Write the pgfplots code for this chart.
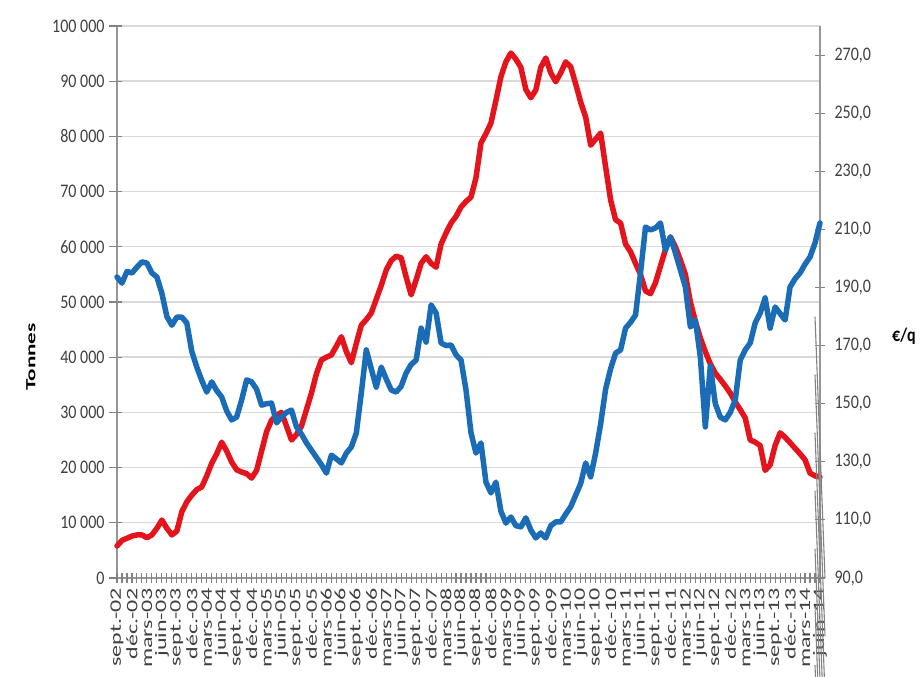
\documentclass[border=0pt]{standalone}
\usepackage{fontspec}
\setmainfont{Carlito}
\usepackage{pgfplots}
\usepackage{pgfplotstable}
\pgfplotsset{compat=1.18}

\definecolor{lred}{RGB}{228,20,28}
\definecolor{lblue}{RGB}{27,108,182}
\definecolor{gridc}{RGB}{217,217,217}
\definecolor{axisc}{RGB}{150,150,150}
\definecolor{tmark}{RGB}{130,130,130}
\definecolor{tickc}{RGB}{64,64,64}

% mois (0 = sept. 2002), stocks en tonnes, prix en euros par quintal
\pgfplotstableread{
i t p
0 5800 193.6
1 6800 191.5
2 7200 195.5
3 7600 195.0
4 7800 197.0
5 7800 198.8
6 7300 198.4
7 7800 195.0
8 9000 193.6
9 10500 188.0
10 9000 180.0
11 7800 177.0
12 8500 179.8
13 12000 179.8
14 13800 177.8
15 15000 168.0
16 16000 162.6
17 16500 158.0
18 18500 154.0
19 20800 157.5
20 22500 154.5
21 24600 152.3
22 23000 147.5
23 21000 144.4
24 19600 145.4
25 19200 151.3
26 18900 158.2
27 18100 157.5
28 19500 155.0
29 23000 149.5
30 26500 150.0
31 28600 150.2
32 29500 143.4
33 30000 145.4
34 27500 147.0
35 25000 147.8
36 26000 142.0
37 27500 139.5
38 30500 136.5
39 33500 134.0
40 37000 131.5
41 39500 129.0
42 40000 126.1
43 40400 132.3
44 42000 131.0
45 43700 129.6
46 41000 133.0
47 39000 135.1
48 42500 139.9
49 45800 153.7
50 46800 168.5
51 48000 162.0
52 50500 155.7
53 53000 162.6
54 55800 158.5
55 57500 154.7
56 58300 154.0
57 58000 156.0
58 54500 160.6
59 51300 163.5
60 54000 165.0
61 57000 176.0
62 58200 171.2
63 57000 184.0
64 56300 181.2
65 60500 170.9
66 62500 170.0
67 64300 170.2
68 65500 166.8
69 67200 165.0
70 68200 154.7
71 69000 140.0
72 72500 133.0
73 78800 136.5
74 80500 123.0
75 82400 119.3
76 86500 123.0
77 90800 113.0
78 93500 108.9
79 95100 111.0
80 94000 108.0
81 92500 107.6
82 88500 110.7
83 87000 106.5
84 88400 103.8
85 92500 105.5
86 94200 103.8
87 91500 108.0
88 89900 109.3
89 91500 109.3
90 93500 112.0
91 92600 114.5
92 89500 118.5
93 86200 122.5
94 83500 129.6
95 78400 124.8
96 79500 133.0
97 80600 143.0
98 74500 155.0
99 68500 162.0
100 64900 167.4
101 64300 168.5
102 60500 176.0
103 59100 178.0
104 57000 180.5
105 55000 195.0
106 52000 210.8
107 51500 209.8
108 53500 210.5
109 56500 212.2
110 59500 202.9
111 61800 207.4
112 60000 201.9
113 57600 196.0
114 55000 190.2
115 50000 176.4
116 46500 178.8
117 43500 166.1
118 41000 142.0
119 38800 163.0
120 37100 150.0
121 36000 145.4
122 34800 144.4
123 33500 147.0
124 31900 151.3
125 30500 165.0
126 29000 168.5
127 25000 170.9
128 24600 177.8
129 24000 181.2
130 19500 186.4
131 20500 176.0
132 24000 183.3
133 26300 181.0
134 25500 178.8
135 24500 190.2
136 23500 193.0
137 22500 195.0
138 21400 198.0
139 19000 200.5
140 18500 205.3
141 18300 212.2
}\data

\tikzset{tk/.style={tmark, line width=1.1pt}}

\pgfplotsset{
  base/.style={
    scale only axis, width=703pt, height=552pt,
    at={(117pt,99pt)}, anchor=south west,
    xmin=0, xmax=141, clip=false,
    /pgf/number format/assume math mode=true,
    tick label style={font=\fontsize{16}{16}\selectfont, text=tickc},
    axis line style={axisc, line width=1.2pt},
    every tick/.append style={tmark, line width=1.1pt},
    minor tick style={tmark, line width=1.1pt},
    tick align=center, major tick length=10pt, minor tick length=10pt,
  },
}

\begin{document}
\begin{tikzpicture}
\useasboundingbox (0,0) rectangle (922pt,677pt);

\begin{axis}[base,
  axis x line*=bottom, axis y line*=left,
  ymin=0, ymax=100000,
  ytick={0,10000,...,100000},
  scaled y ticks=false,
  yticklabel style={/pgf/number format/fixed, /pgf/number format/1000 sep={\ }, yscale=1.2, xshift=-4pt},
  ymajorgrids, grid style={gridc, line width=1.4pt},
  xtick={0,3,...,141},
  minor xtick={0,...,141},
  xticklabels={sept.-02,déc.-02,
    mars-03,juin-03,sept.-03,déc.-03,mars-04,juin-04,sept.-04,déc.-04,
    mars-05,juin-05,sept.-05,déc.-05,mars-06,juin-06,sept.-06,déc.-06,
    mars-07,juin-07,sept.-07,déc.-07,mars-08,juin-08,sept.-08,déc.-08,
    mars-09,juin-09,sept.-09,déc.-09,mars-10,juin-10,sept.-10,déc.-10,
    mars-11,juin-11,sept.-11,déc.-11,mars-12,juin-12,sept.-12,déc.-12,
    mars-13,juin-13,sept.-13,déc.-13,mars-14,juin-14},
  xticklabel style={rotate=90, anchor=east, xscale=1.5},
]
% graduations mensuelles et graduations de gauche
\pgfplotsinvokeforeach{0,...,141}{\draw[tk] (axis cs:#1,0) ++(0,-5pt) -- ++(0,10pt);}
\pgfplotsinvokeforeach{0,10000,20000,30000,40000,50000,60000,70000,80000,90000,100000}{\draw[tk] (axis cs:0,#1) ++(-8pt,0) -- ++(8pt,0);}
\addplot[lred, line width=5.5pt, line join=round, line cap=round] table[x=i, y=t] {\data};
\end{axis}

\begin{axis}[base,
  axis x line=none, axis y line*=right,
  ymin=90, ymax=280,
  ytick={90,110,...,270},
  yticklabel style={/pgf/number format/fixed, /pgf/number format/fixed zerofill,
    /pgf/number format/precision=1, /pgf/number format/use comma, yscale=1.2, xshift=6pt},
]
\pgfplotsinvokeforeach{90,110,130,150,170,190,210,230,250,270}{\draw[tk] (axis cs:141,#1) ++(-5pt,0) -- ++(10pt,0);}
\addplot[lblue, line width=5.5pt, line join=round, line cap=round] table[x=i, y=p] {\data};
\end{axis}

\node[rotate=90, xscale=1.65, font=\bfseries\fontsize{14}{14}\selectfont] at (31pt,320pt) {Tonnes};
\node[yscale=1.2, font=\bfseries\fontsize{16}{16}\selectfont] at (904pt,341pt) {€/q};
\end{tikzpicture}
\end{document}
